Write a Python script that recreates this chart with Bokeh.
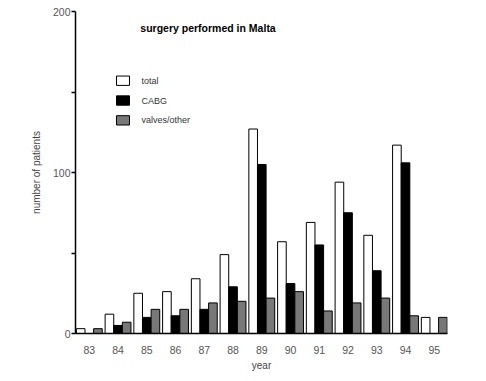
from bokeh.plotting import figure
from bokeh.models import Range1d, FixedTicker, ColumnDataSource
from bokeh.core.properties import value
from bokeh.embed import file_html
from bokeh.resources import INLINE

years = ["83", "84", "85", "86", "87", "88", "89", "90", "91", "92", "93", "94", "95"]
total = [3, 12, 25, 26, 34, 49, 127, 57, 69, 94, 61, 117, 10]
cabg = [0, 5, 10, 11, 15, 29, 105, 31, 55, 75, 39, 106, 0]
valves = [3, 7, 15, 15, 19, 20, 22, 26, 14, 19, 22, 11, 10]
series_names = ["total", "CABG", "valves/other"]
series_colors = ["white", "black", "#787878"]
y_ticks = [0, 50, 100, 150, 200]
y_tick_labels = {0: "0", 50: "", 100: "100", 150: "", 200: "200"}

idx = list(range(len(years)))
bw = 0.3

p = figure(width=478, height=373, output_backend="svg", toolbar_location=None,
           x_range=Range1d(-0.48, 12.46), y_range=Range1d(0, 200),
           min_border_left=75, min_border_right=31, min_border_top=11, min_border_bottom=37)
p.outline_line_color = None
p.grid.visible = False
p.background_fill_color = "white"

for k, (vals, col) in enumerate(zip([total, cabg, valves], series_colors)):
    src = ColumnDataSource(dict(x=[i + (k - 1) * bw for i in idx], top=vals))
    p.vbar(x="x", top="top", bottom=0, width=bw, source=src,
           fill_color=col, line_color="black", line_width=1)

# axes
p.xaxis.ticker = FixedTicker(ticks=idx)
p.xaxis.major_label_overrides = {i: y for i, y in zip(idx, years)}
p.xaxis.minor_tick_line_color = None
p.xaxis.major_label_standoff = 6
p.yaxis.ticker = FixedTicker(ticks=y_ticks)
p.yaxis.major_label_overrides = y_tick_labels
p.yaxis.minor_tick_line_color = None
p.yaxis.major_tick_out = 4
p.yaxis.major_tick_in = 0
p.yaxis.major_label_standoff = 1
for ax in (p.xaxis, p.yaxis):
    ax.axis_line_color = "black"
    ax.axis_line_width = 1.5
    ax.major_label_text_font = "Liberation Sans"
    ax.major_label_text_font_size = "10.5px"
    ax.major_label_text_color = "#555555"
    ax.axis_label_text_font = "Liberation Sans"
    ax.axis_label_text_font_size = "10px"
    ax.axis_label_text_font_style = "normal"
    ax.axis_label_text_color = "#444444"
p.xaxis.major_tick_line_color = None
p.yaxis.major_tick_line_color = "black"
p.yaxis.major_tick_line_width = 1.5

p.xaxis.axis_label = "year"
p.xaxis.axis_label_standoff = 3
p.yaxis.axis_label = "number of patients"
p.yaxis.axis_label_standoff = 8

# title
p.text(x=[4.13], y=[190], text=["surgery performed in Malta"],
       text_font=value("Liberation Sans"), text_font_size="10.5px",
       text_font_style="bold", text_color="black",
       text_align="center", text_baseline="middle")

# legend
leg_y = [157.0, 144.7, 132.4]
p.quad(left=[0.946] * 3, right=[1.398] * 3,
       top=[y + 2.9 for y in leg_y], bottom=[y - 2.9 for y in leg_y],
       fill_color=series_colors, line_color="black", line_width=1)
p.text(x=[1.816] * 3, y=leg_y, text=series_names,
       text_font=value("Liberation Sans"), text_font_size="9px",
       text_color="#333333", text_baseline="middle")

open("out.html", "w").write(file_html(p, INLINE))
